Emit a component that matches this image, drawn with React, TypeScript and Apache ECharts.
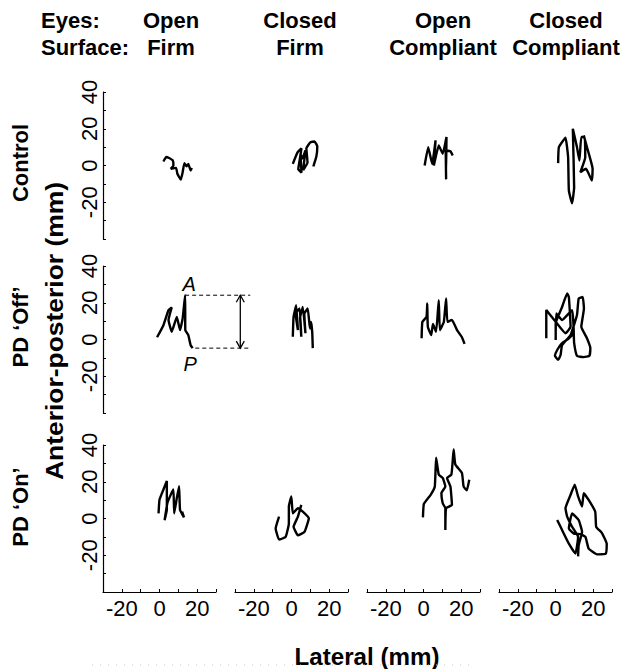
import { useEffect, useRef } from "react";
import * as echarts from "echarts";

// ---- Labels ----
const eyesLabels = ["Open", "Closed", "Open", "Closed"];
const surfaceLabels = ["Firm", "Firm", "Compliant", "Compliant"];
const groupLabels = ["Control", "PD \u2018Off\u2019", "PD \u2018On\u2019"];
const xTickLabels = [-20, 0, 20];
const yTickLabels = [-20, 0, 20, 40];

// ---- Sway trajectories [lateral mm, anterior-posterior mm] ----
// Control
const controlOpenFirm = [[2.1,2.2],[3.6,4.6],[4.8,4.2],[7.1,2.7],[7.4,0],[6,-1.8],[8.8,-1.3],[9.5,-4.5],[11.3,-7.7],[12.3,-3.6],[13.2,1.3],[14.4,-0.5],[15.3,0.9],[16.5,-2.7],[17.2,-1.3]];
const controlClosedFirm = [[0.7,0.9],[3.2,7.1],[5.3,9.3],[4.3,2.7],[3.6,-2],[5.3,-3.8],[4.8,6],[5.8,3.8],[7.4,8.2],[6.2,-2.5],[8.5,1.6],[7.9,9.3],[10,12.6],[12.2,13.1],[13.7,10.4],[13.2,4.9],[11.6,-0.5]];
const controlOpenCompliant = [[0.6,0],[2.5,10],[4.6,0.9],[6.4,13.7],[5.5,0],[8.1,10.9],[10.2,6.4],[12.2,15.5],[12,-7.3],[11.8,8.2],[14.3,7.8],[15.5,5.5]];
const controlClosedCompliant = [[1.4,1.3],[1.8,10],[5.3,15.1],[6.7,4.5],[7.1,-13.7],[8.8,-20.6],[9.9,-11.9],[9.2,20],[11.4,10],[12.7,2.7],[13.7,15.5],[15.5,15.5],[15.8,4.5],[13.2,-3.6],[16.2,-1.8],[19.3,-8.2],[19.7,-1.8],[16.7,10],[15,16.4]];
// PD 'Off'
const offOpenFirm = [[-1.3,1.2],[2.1,7.8],[4.8,16],[6.5,17.4],[4.8,10.6],[6.5,4.2],[9.2,12.3],[10.9,5.1],[12.3,11.5],[13.6,24.1],[13.7,5.1],[15.3,2.4],[16.5,-3],[17.6,-4.7]];
const offClosedFirm = [[0.7,1.5],[1.1,12.3],[2.5,18.7],[3.4,5.1],[2.2,14],[4.3,16.9],[5.2,1.5],[4.6,12],[6,17.7],[7.4,3.4],[6.8,14],[8.6,16.9],[9.8,6],[10.4,9.6],[11,4],[11.3,-4.7]];
const offOpenCompliant = [[-1,0.7],[-0.6,9.6],[1.6,12.3],[2,19.6],[2.3,6.9],[4.1,2.4],[5,8.4],[6.7,4.2],[8.1,21.4],[8.7,5.1],[10.8,9.6],[12,22.3],[12.7,9.6],[15.1,10.6],[17.8,5.1],[20.4,1.2],[21.8,-2.4]];
const offClosedCompliant = [[-4.9,0.7],[-4.9,16],[0.1,9.6],[5.3,3.4],[8,6.9],[7.1,23.1],[6.2,25],[3.5,17.7],[0.1,8.8],[0.1,-0.3],[0.4,14.2],[3.5,10.6],[8.8,16],[9.7,3.4],[7.1,0.7],[3.5,-2],[0.9,-5.7],[-0.3,-8.9],[1.4,-11.1],[2.7,-8.4],[3.5,-3],[8,2.4],[11.4,13.3],[12.3,22.3],[14.4,23.1],[15.1,16.9],[13.7,6.9],[16.7,0.7],[18.5,-4.7],[18,-8.9],[15,-9.6],[11.4,-8.9],[9.9,-2],[9.7,3.4]];
// PD 'On'
const onOpenFirm = [[-0.5,2.8],[0,10.2],[2.1,15.8],[3.9,20.4],[3.9,4.7],[2.7,-0.9],[4.2,8.4],[6,13],[7.4,15.8],[7.8,2.8],[9.2,11.2],[10.4,17.6],[10.9,4.7],[13,0.6],[12,3.7]];
const onClosedFirm = [[-6.6,1],[-8.4,-5.4],[-6.6,-11.5],[-3.1,-10],[-1.4,-2.7],[-1.4,6.5],[-0.1,12],[0.7,2.8],[3.4,5.6],[6,3.7],[9.2,0.1],[6.9,-7.3],[3.4,-9.1],[1.1,-4.5],[3.4,1],[5.2,7.4]];
const onOpenCompliant = [[-0.3,0.6],[0.2,7.9],[3.8,12.9],[6,17.4],[6.7,33.1],[8.1,23.9],[10.2,22.1],[11.6,17.4],[9.5,13.8],[10.2,8.3],[11.6,5.6],[11.6,-6.3],[12,5.6],[15.1,7.4],[14.3,17.4],[12.5,22.1],[14.8,23.9],[15.5,31.2],[16,37.6],[16.9,29.4],[20.4,24.8],[21.3,17.4],[23,15.3],[24.3,21.1]];
const onClosedCompliant = [[0.9,-0.8],[3.5,-6.3],[7.1,-13.7],[10.6,-19.1],[12,-10],[8.8,-4.5],[6.2,1],[5.3,5.6],[8,12.9],[10.2,18.4],[12,12],[14.1,6.5],[15,13.8],[17.6,10.1],[21.1,3.7],[21.6,-4.5],[24.6,-7.8],[27.2,-13.7],[26.7,-19.1],[22,-19.5],[17.6,-16.4],[15.9,-10],[13.2,-8.5],[9.7,-8.2],[7.1,-5.4],[8.8,2.8],[12.3,-0.8],[14.1,-7.3],[12.3,-14.6],[12,-20.6]];

const trajectories = [
  [controlOpenFirm, controlClosedFirm, controlOpenCompliant, controlClosedCompliant],
  [offOpenFirm, offClosedFirm, offOpenCompliant, offClosedCompliant],
  [onOpenFirm, onClosedFirm, onOpenCompliant, onClosedCompliant],
];

// A–P excursion annotation (PD 'Off', open eyes, firm surface), in mm
const apTopY = 24.1;
const apBottomY = -4.7;
const apTopStartX = 13.6;
const apBottomStartX = 19;
const apLineEndX = 48.2;
const apArrowX = 42.9;
const apLabelA = [15.8, 30.2];
const apLabelP = [16.3, -13.3];

const FONT = "'Liberation Sans', Arial, Helvetica, sans-serif";
const colLeft = [103, 235, 367, 499];
const rowTop = [92, 266, 445];
const W = 113;
const H = 147;

export default function App() {
  const ref = useRef<HTMLDivElement>(null);
  useEffect(() => {
    document.body.style.margin = "0";
    const chart = echarts.init(ref.current!, null, { renderer: "svg" });
    const grid: any[] = [];
    const xAxis: any[] = [];
    const yAxis: any[] = [];
    const series: any[] = [];
    for (let r = 0; r < 3; r++) {
      for (let c = 0; c < 4; c++) {
        const i = r * 4 + c;
        grid.push({ left: colLeft[c], top: rowTop[r], width: W, height: H });
        xAxis.push({
          gridIndex: i,
          type: "value",
          min: -30,
          max: 30,
          interval: 10,
          show: r === 2,
          axisLine: { show: true, onZero: false, lineStyle: { color: "#000", width: 1.2 } },
          axisTick: { show: true, inside: true, length: 3, lineStyle: { color: "#000" } },
          axisLabel: {
            show: true,
            margin: 5,
            color: "#000",
            fontSize: 22,
            fontFamily: FONT,
            showMinLabel: true,
            showMaxLabel: true,
            formatter: (v: number) => (xTickLabels.includes(v) ? String(v) : ""),
          },
          splitLine: { show: false },
        });
        yAxis.push({
          gridIndex: i,
          type: "value",
          min: -40,
          max: 40,
          interval: 10,
          show: c === 0,
          axisLine: { show: true, onZero: false, lineStyle: { color: "#000", width: 1.2 } },
          axisTick: { show: true, inside: true, length: 3, lineStyle: { color: "#000" } },
          axisLabel: {
            show: true,
            rotate: 90,
            margin: 3,
            color: "#000",
            fontSize: 22,
            fontFamily: FONT,
            showMinLabel: true,
            showMaxLabel: true,
            formatter: (v: number) => (yTickLabels.includes(v) ? String(v) : ""),
          },
          splitLine: { show: false },
        });
        series.push({
          type: "line",
          xAxisIndex: i,
          yAxisIndex: i,
          data: trajectories[r][c],
          showSymbol: false,
          symbol: "none",
          clip: false,
          smooth: 0.12,
          lineStyle: { color: "#000", width: 2.4 },
        });
      }
    }

    const textStyle = (text: string, size: number, extra: any = {}) => ({
      text,
      x: 0,
      y: 0,
      fill: "#000",
      font: `bold ${size}px ${FONT}`,
      align: "center",
      verticalAlign: "middle",
      ...extra,
    });

    const graphic: any[] = [];
    graphic.push({ type: "text", x: 41, y: 20.5, style: textStyle("Eyes:", 22, { align: "left" }) });
    graphic.push({ type: "text", x: 41, y: 47.5, style: textStyle("Surface:", 22, { align: "left" }) });
    const titleX = [171, 300, 443, 566];
    for (let c = 0; c < 4; c++) {
      graphic.push({ type: "text", x: titleX[c], y: 20.5, style: textStyle(eyesLabels[c], 22) });
      graphic.push({ type: "text", x: titleX[c], y: 47.5, style: textStyle(surfaceLabels[c], 22, { font: `bold 22px ${FONT}` }) });
    }
    const groupY = [163, 327, 507];
    for (let r = 0; r < 3; r++) {
      graphic.push({ type: "text", x: 20, y: groupY[r], rotation: Math.PI / 2, style: textStyle(groupLabels[r], 22) });
    }
    graphic.push({
      type: "text",
      x: 55,
      y: 331,
      rotation: Math.PI / 2,
      scaleX: 1.15,
      style: textStyle("Anterior-posterior (mm)", 23),
    });
    graphic.push({ type: "text", x: 367, y: 657, scaleX: 1.05, style: textStyle("Lateral (mm)", 23) });
    graphic.push({
      type: "line",
      shape: { x1: 92, y1: 665, x2: 470, y2: 665 },
      style: { stroke: "#c8c8c8", lineWidth: 1, lineDash: [1, 7] },
    });

    chart.setOption({ animation: false, grid, xAxis, yAxis, series, graphic });

    // Annotation positioned through the PD 'Off' / open-firm panel's own axes
    const finder = { gridIndex: 4 };
    const p = (x: number, y: number) => chart.convertToPixel(finder as any, [x, y]) as number[];
    const t1 = p(apTopStartX, apTopY);
    const t2 = p(apLineEndX, apTopY);
    const b1 = p(apBottomStartX, apBottomY);
    const b2 = p(apLineEndX, apBottomY);
    const at = p(apArrowX, apTopY);
    const ab = p(apArrowX, apBottomY);
    const la = p(apLabelA[0], apLabelA[1]);
    const lp = p(apLabelP[0], apLabelP[1]);
    const dash = { stroke: "#000", lineWidth: 1, lineDash: [4, 3] };
    const solid = { stroke: "#000", lineWidth: 1.3, fill: "none" };
    graphic.push(
      { type: "line", shape: { x1: t1[0], y1: t1[1], x2: t2[0], y2: t2[1] }, style: dash },
      { type: "line", shape: { x1: b1[0], y1: b1[1], x2: b2[0], y2: b2[1] }, style: dash },
      { type: "line", shape: { x1: at[0], y1: at[1], x2: ab[0], y2: ab[1] }, style: solid },
      { type: "polyline", shape: { points: [[at[0] - 4, at[1] + 7], [at[0], at[1]], [at[0] + 4, at[1] + 7]] }, style: solid },
      { type: "polyline", shape: { points: [[ab[0] - 4, ab[1] - 7], [ab[0], ab[1]], [ab[0] + 4, ab[1] - 7]] }, style: solid },
      { type: "text", x: la[0], y: la[1], style: { text: "A", x: 0, y: 0, fill: "#000", font: `italic 20px ${FONT}`, align: "center", verticalAlign: "middle" } },
      { type: "text", x: lp[0], y: lp[1], style: { text: "P", x: 0, y: 0, fill: "#000", font: `italic 20px ${FONT}`, align: "center", verticalAlign: "middle" } }
    );
    chart.setOption({ graphic });

    return () => chart.dispose();
  }, []);
  return <div ref={ref} style={{ width: 630, height: 669 }} />;
}
